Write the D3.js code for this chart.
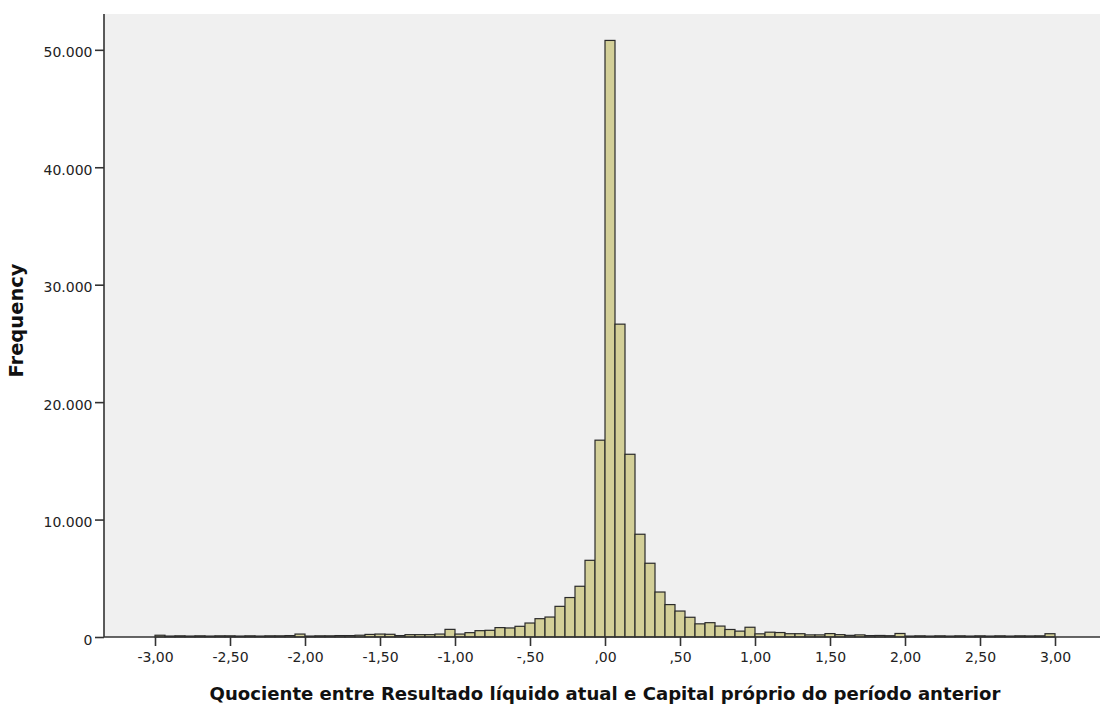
<!DOCTYPE html>
<html>
<head>
<meta charset="utf-8">
<script src="https://cdn.jsdelivr.net/npm/d3@7"></script>
<style>
  html, body { margin: 0; padding: 0; background: #ffffff; }
  svg { display: block; }
</style>
</head>
<body>
<svg id="chart" width="1100" height="706"></svg>
<script>
// Histogram bins: 90 bins of width 1/15 from -3 to 3
const binStart = -3;
const binWidth = 1 / 15;
const frequencies = [
  150, 80, 100, 80, 100, 80, 100, 100, 80, 100,
  80, 100, 100, 120, 250, 80, 100, 100, 120, 120,
  150, 220, 250, 230, 120, 200, 200, 200, 250, 650,
  250, 370, 540, 570, 800, 770, 910, 1190, 1560, 1700,
  2610, 3360, 4320, 6530, 16760, 50800, 26640, 15560, 8750, 6280,
  3830, 2760, 2210, 1680, 1120, 1220, 930, 640, 500, 830,
  270, 410, 380, 280, 280, 180, 180, 290, 200, 140,
  180, 120, 130, 110, 300, 80, 100, 80, 100, 80,
  100, 80, 100, 80, 100, 80, 100, 90, 100, 280
];

const xTickValues = [-3, -2.5, -2, -1.5, -1, -0.5, 0, 0.5, 1, 1.5, 2, 2.5, 3];
const xTickLabels = ["-3,00", "-2,50", "-2,00", "-1,50", "-1,00", "-,50", ",00", ",50", "1,00", "1,50", "2,00", "2,50", "3,00"];
const yTickValues = [0, 10000, 20000, 30000, 40000, 50000];
const yTickLabels = ["0", "10.000", "20.000", "30.000", "40.000", "50.000"];

const xTitle = "Quociente entre Resultado líquido atual e Capital próprio do período anterior";
const yTitle = "Frequency";

const plot = { left: 104, top: 14, right: 1100, bottom: 637 };

const x = d3.scaleLinear().domain([-3.34, 3.30]).range([plot.left, plot.right]);
const y = d3.scaleLinear().domain([0, 53050]).range([plot.bottom, plot.top]);

const svg = d3.select("#chart");
const font = "'DejaVu Sans', Verdana, sans-serif";

// Plot background
svg.append("rect")
  .attr("x", plot.left).attr("y", plot.top)
  .attr("width", plot.right - plot.left).attr("height", plot.bottom - plot.top)
  .attr("fill", "#f0f0f0");

// Bars
const bins = frequencies.map((f, i) => ({
  x0: binStart + i * binWidth,
  x1: binStart + (i + 1) * binWidth,
  count: f
}));

svg.append("g")
  .selectAll("rect")
  .data(bins)
  .join("rect")
  .attr("x", d => x(d.x0))
  .attr("y", d => y(d.count))
  .attr("width", d => x(d.x1) - x(d.x0))
  .attr("height", d => y(0) - y(d.count))
  .attr("fill", "#d3cf98")
  .attr("stroke", "#2a2a2a")
  .attr("stroke-width", 1.2);

// Y axis
const yAxis = d3.axisLeft(y)
  .tickValues(yTickValues)
  .tickFormat((d, i) => yTickLabels[i])
  .tickSize(9)
  .tickPadding(2.5)
  .tickSizeOuter(0);

const gy = svg.append("g")
  .attr("transform", `translate(${plot.left},0)`)
  .call(yAxis);
gy.select(".domain").remove();
gy.selectAll(".tick line").attr("stroke", "#333").attr("stroke-width", 1.6);
gy.selectAll(".tick text")
  .attr("font-family", font).attr("font-size", 14).attr("fill", "#222")
  .attr("dy", "0.5em");

svg.append("line")
  .attr("x1", plot.left).attr("x2", plot.left)
  .attr("y1", plot.top).attr("y2", plot.bottom)
  .attr("stroke", "#333").attr("stroke-width", 1.6);

// X axis
const xAxis = d3.axisBottom(x)
  .tickValues(xTickValues)
  .tickFormat((d, i) => xTickLabels[i])
  .tickSize(9)
  .tickPadding(6)
  .tickSizeOuter(0);

const gx = svg.append("g")
  .attr("transform", `translate(0,${plot.bottom})`)
  .call(xAxis);
gx.select(".domain").remove();
gx.selectAll(".tick line").attr("stroke", "#333").attr("stroke-width", 1.6);
gx.selectAll(".tick text")
  .attr("font-family", font).attr("font-size", 14).attr("fill", "#222");

svg.append("line")
  .attr("x1", plot.left).attr("x2", plot.right)
  .attr("y1", plot.bottom).attr("y2", plot.bottom)
  .attr("stroke", "#333").attr("stroke-width", 1.6);

// Axis titles
svg.append("text")
  .attr("x", x(0))
  .attr("y", 700)
  .attr("text-anchor", "middle")
  .attr("font-family", font).attr("font-size", 18.1).attr("font-weight", "bold")
  .attr("fill", "#111")
  .text(xTitle);

svg.append("text")
  .attr("transform", `translate(23,320.5) rotate(-90)`)
  .attr("text-anchor", "middle")
  .attr("font-family", font).attr("font-size", 19.5).attr("font-weight", "bold")
  .attr("fill", "#111")
  .text(yTitle);
</script>
</body>
</html>
